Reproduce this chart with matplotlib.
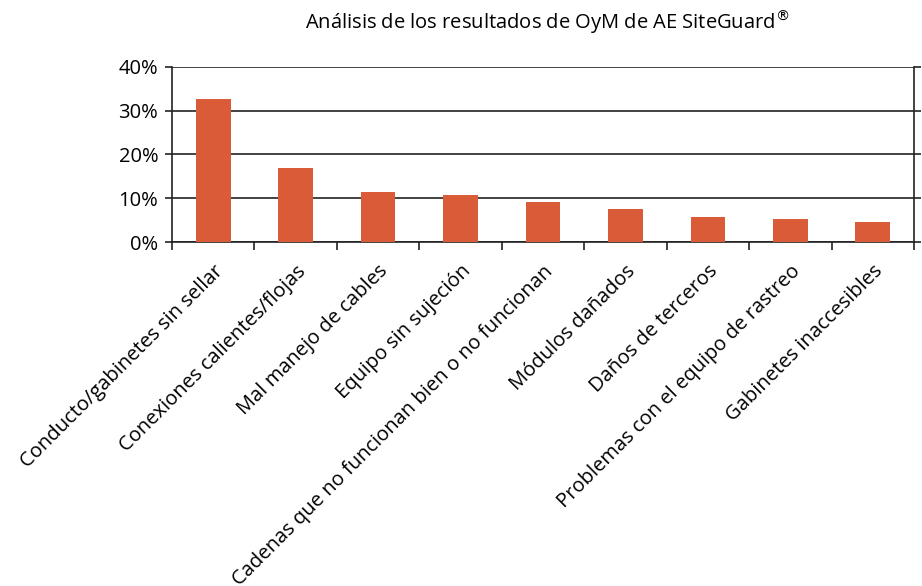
import matplotlib.pyplot as plt
import numpy as np
from matplotlib.ticker import PercentFormatter

plt.rcParams["font.family"] = ["Open Sans", "DejaVu Sans"]

categories = [
    "Conducto/gabinetes sin sellar",
    "Conexiones calientes/flojas",
    "Mal manejo de cables",
    "Equipo sin sujeción",
    "Cadenas que no funcionan bien o no funcionan",
    "Módulos dañados",
    "Daños de terceros",
    "Problemas con el equipo de rastreo",
    "Gabinetes inaccesibles",
]
values = [32.7, 16.9, 11.4, 10.7, 9.1, 7.5, 5.8, 5.3, 4.6]
yticks = [0, 10, 20, 30, 40]

bar_color = "#DA5B38"

fig = plt.figure(figsize=(9.22, 5.86), dpi=100)
ax = fig.add_axes([0.1866, 0.587, 0.8047, 0.2987])

x = np.arange(len(categories))
ax.bar(x, values, width=0.42, color=bar_color, zorder=3)

ax.set_xlim(-0.5, len(categories) - 0.5)
ax.set_ylim(0, 40)
ax.set_yticks(yticks)
ax.yaxis.set_major_formatter(PercentFormatter(decimals=0))
ax.grid(axis="y", color="#222222", linewidth=1.2, zorder=1)

for side in ["left", "right", "bottom"]:
    ax.spines[side].set_color("#222222")
    ax.spines[side].set_linewidth(1.2)
ax.spines["top"].set_visible(False)

ax.tick_params(axis="y", which="both", left=True, right=True, direction="out",
               length=5, width=1.2, color="#222222", labelsize=14.5, pad=5)

# category boundary ticks on x axis
ax.set_xticks(np.arange(-0.5, len(categories), 1.0))
ax.set_xticklabels([])
ax.tick_params(axis="x", direction="out", length=6, width=1.2, color="#222222")

for i, label in enumerate(categories):
    ax.annotate(label, xy=(i, 0), xycoords=("data", "axes fraction"),
                xytext=(5, -19), textcoords="offset points",
                rotation=45, rotation_mode="anchor", ha="right", va="center",
                fontsize=14.5, annotation_clip=False)

fig.text(0.594, 0.962, r"Análisis de los resultados de OyM de AE SiteGuard$^{\circledR}$",
         ha="center", va="center", fontsize=14.5)

fig.savefig("out.png", dpi=100)
